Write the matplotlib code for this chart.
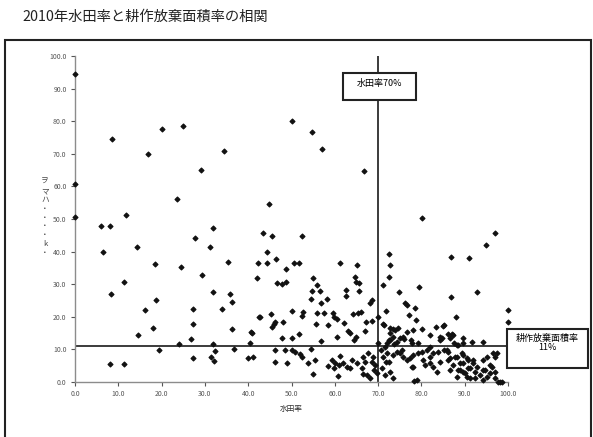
import matplotlib
matplotlib.use('Agg')
import matplotlib.pyplot as plt
import matplotlib.patches as patches

plt.rcParams['font.family'] = ['Noto Sans CJK JP', 'DejaVu Sans']

# 水田率 (x) と 耕作放棄面積率 (y)
paddy = [0.0, 0.0, 0.0, 8.5, 20.2, 25.0, 16.9, 34.4, 29.1, 50.0, 54.7, 57.1, 66.7, 23.6, 44.9,
         11.7, 5.9, 8.1, 31.9, 27.7, 31.2, 43.3, 45.4, 52.4, 6.5, 14.2, 44.3, 46.4, 18.5, 24.4,
         35.4, 42.3, 44.3, 48.7, 50.6, 51.8, 61.2, 29.3, 42.1, 55.0, 11.2, 8.2, 18.6, 16.2, 31.9,
         35.8, 36.2, 27.3, 33.9, 42.6, 27.3, 17.9, 14.5, 36.2, 40.6, 23.9, 26.9, 31.9, 40.4, 19.4,
         32.3, 36.7, 31.5, 32.1, 27.3, 40.0, 41.2, 8.1, 11.2, 80.1, 97.1, 95.0, 72.4, 86.8, 91.1,
         46.3, 48.9, 53.9, 55.4, 55.0, 58.4, 59.7, 60.0, 60.8,
         65.1, 72.7, 46.7, 47.8, 48.7, 55.8, 56.6, 54.7, 64.7, 65.0, 65.5, 65.5, 62.5, 62.6, 72.4,
         71.1, 79.4, 74.8, 92.9, 86.8, 54.4, 58.1, 56.7, 50.0, 52.7, 55.8, 57.6, 59.5, 59.8, 60.4,
         52.4, 45.3, 42.7, 48.1, 46.3, 46.0, 45.5, 55.6, 58.5, 62.1, 64.1, 65.3, 66.0, 67.2, 68.1,
         68.6, 63.1, 63.5, 67.0, 68.7, 51.7, 50.0, 47.8, 40.8, 56.7, 60.4, 64.4, 64.9, 70.0, 71.8,
         71.4, 72.7, 73.5, 74.5, 80.1, 76.2, 76.7, 78.5, 77.2, 78.8, 83.3, 84.9, 88.0, 86.2, 87.4,
         86.6, 89.7, 82.0, 84.3, 84.7, 100.0, 100.0, 77.5, 76.0, 74.3, 73.7, 72.7, 72.1, 71.6, 69.9,
         87.5, 88.2, 91.6, 94.3, 82.0,
         46.2, 48.5, 50.0, 50.8, 52.0, 52.4, 54.5, 59.3, 61.2, 61.0, 62.0, 62.7, 63.5, 63.9, 65.1,
         66.2, 66.6, 67.4, 68.1, 66.6, 67.0, 67.7, 68.9, 68.6, 69.3, 69.1, 69.7, 70.8, 71.6, 72.7,
         73.5, 70.6, 72.0, 73.4, 74.3, 75.5, 71.8, 75.8, 76.6, 78.1, 79.3, 77.8, 78.3, 80.3, 80.8,
         82.0, 81.2, 82.7, 83.9, 85.1, 86.2, 86.6, 88.2, 89.7, 90.8, 88.9, 87.4, 86.6, 88.5, 89.7,
         91.2, 92.8, 94.3, 93.5, 95.1, 95.8, 97.0, 95.8, 97.0, 97.4, 94.3, 92.0, 90.5, 92.4, 94.3,
         97.8, 98.5,
         71.2, 73.9, 72.7, 73.5, 72.4, 75.1, 75.8, 76.6, 78.1, 85.1, 87.0, 84.3, 77.8, 79.3, 88.5,
         89.7, 71.2, 72.4, 75.1, 77.4, 78.1, 78.9, 80.1, 82.0, 82.7, 83.5, 84.3, 85.9, 86.2, 87.8,
         88.2, 88.9, 89.3, 89.7, 90.1, 90.5, 90.8, 91.2, 92.0, 92.4, 94.7, 95.1, 96.2, 97.0, 96.6,
         98.2]
abandoned = [94.4, 60.7, 50.7, 74.4, 77.5, 78.5, 69.8, 70.9, 65.0, 80.2, 76.7, 71.6, 64.6, 56.0, 54.6,
             51.2, 47.7, 47.7, 47.1, 44.1, 41.5, 45.6, 44.9, 44.9, 39.9, 41.5, 39.9, 37.8, 36.1, 35.3,
             36.8, 36.4, 36.4, 34.6, 36.4, 36.4, 36.6, 32.8, 31.9, 32.0, 30.8, 27.1, 25.1, 22.1, 27.6,
             26.9, 24.4, 22.5, 22.5, 20.0, 17.8, 16.6, 14.4, 16.3, 15.2, 11.6, 13.2, 11.6, 12.1, 9.8,
             9.5, 10.1, 7.8, 6.5, 7.5, 7.5, 7.8, 5.6, 5.6, 50.2, 45.6, 41.9, 39.2, 38.4, 37.9,
             6.2, 5.7, 5.9, 6.7, 2.5, 5.0, 4.2, 5.7, 1.8,
             35.9, 35.9, 30.3, 30.1, 30.8, 29.8, 28.0, 28.0, 32.3, 30.8, 30.3, 27.8, 28.2, 26.4, 32.3,
             29.7, 29.2, 27.6, 27.6, 26.2, 25.5, 25.5, 24.3, 21.9, 21.4, 21.3, 21.1, 21.1, 20.0, 19.3,
             20.2, 20.8, 19.8, 18.5, 18.5, 17.7, 16.8, 17.7, 17.5, 18.0, 20.8, 21.1, 21.6, 18.5, 24.1,
             25.2, 15.6, 14.9, 15.7, 18.8, 14.6, 13.4, 13.4, 14.9, 12.6, 13.7, 12.9, 13.7, 20.0, 21.9,
             17.5, 16.7, 16.2, 16.5, 16.2, 24.1, 23.6, 22.6, 20.6, 19.0, 17.0, 17.2, 19.8, 14.7, 14.4,
             13.4, 13.4, 14.4, 12.9, 13.4, 22.1, 18.5, 12.9, 13.1, 12.4, 11.7, 12.9, 11.9, 10.8, 11.9,
             11.9, 11.3, 12.4, 12.4, 10.8,
             9.8, 9.8, 9.8, 9.3, 8.6, 7.8, 10.0, 6.7, 8.0, 5.2, 5.7, 4.7, 4.2, 6.7, 5.7,
             4.2, 2.5, 2.1, 1.1, 7.8, 6.2, 8.8, 7.8, 6.2, 5.2, 3.7, 2.7, 4.2, 2.1, 3.2,
             1.1, 9.8, 8.8, 8.3, 9.3, 9.8, 6.2, 7.8, 6.7, 8.3, 8.8, 4.5, 0.4, 6.7, 5.2,
             5.7, 9.8, 8.8, 9.3, 9.8, 9.3, 7.3, 7.8, 8.3, 6.7, 5.7, 5.2, 3.7, 3.7, 3.2,
             4.2, 4.7, 3.7, 2.1, 1.6, 2.7, 3.2, 5.2, 7.8, 8.8, 6.7, 5.7, 1.6, 1.1, 0.6,
             0.1, 0.0,
             17.8, 16.0, 14.9, 13.9, 12.9, 13.4, 13.9, 15.4, 16.0, 17.5, 14.7, 13.7, 12.1, 11.9, 11.3,
             11.9, 7.8, 6.2, 8.8, 7.3, 4.7, 0.6, 9.3, 7.8, 4.7, 3.2, 6.2, 9.8, 6.7, 7.8,
             1.6, 3.7, 8.8, 5.7, 2.7, 7.3, 4.2, 1.1, 6.7, 3.2, 3.7, 7.8, 4.7, 1.1, 8.8,
             0.1]

ticks = [0, 10, 20, 30, 40, 50, 60, 70, 80, 90, 100]
tick_labels = ['%.1f' % t for t in ticks]
paddy_line = 70
abandon_line = 11

fig = plt.figure(figsize=(5.93, 4.37), dpi=100)
ax = fig.add_axes([0.1265, 0.1259, 0.7302, 0.746])

ax.scatter(paddy, abandoned, marker='D', s=6, color='#111111', linewidths=0.9,
           edgecolors='#111111', clip_on=False, zorder=3)
ax.axvline(paddy_line, color='#1a1a1a', lw=1.2, zorder=2)
ax.axhline(abandon_line, color='#1a1a1a', lw=1.2, zorder=2)

ax.set_xlim(0, 100)
ax.set_ylim(0, 100)
ax.set_xticks(ticks)
ax.set_xticklabels(tick_labels)
ax.set_yticks(ticks)
ax.set_yticklabels(tick_labels)
ax.tick_params(labelsize=5, colors='#555555', length=3, width=0.8, pad=3)
for s in ['top', 'right']:
    ax.spines[s].set_visible(False)
for s in ['left', 'bottom']:
    ax.spines[s].set_color('#8c8c8c')
    ax.spines[s].set_linewidth(1.0)
ax.set_xlabel('水田率', fontsize=5.5, color='#333333', labelpad=5)

# garbled vertical y label as in the original
fig.text(0.076, 1 - 178 / 437, 'ヲ\nマ\nハ\n・\n・\n・\n・\nk\n・', fontsize=5.5,
         color='#444444', ha='center', va='top', linespacing=1.15)

fig.text(0.037, 0.961, '2010年水田率と耕作放棄面積率の相関', fontsize=10.3,
         ha='left', va='center', color='#222222')

# outer frame
fig.patches.append(patches.Rectangle((0.0084, -0.05), 0.988, 0.9585, transform=fig.transFigure,
                                     fill=False, edgecolor='#222222', lw=1.5, zorder=0))

# label boxes
fig.patches.append(patches.Rectangle((0.578, 0.771), 0.123, 0.0618, transform=fig.transFigure,
                                     facecolor='white', edgecolor='#222222', lw=1.5, zorder=5))
fig.text(0.640, 0.808, '水田率70%', fontsize=6.5, ha='center', va='center', zorder=6)

fig.patches.append(patches.Rectangle((0.855, 0.158), 0.1366, 0.0892, transform=fig.transFigure,
                                     facecolor='white', edgecolor='#222222', lw=1.5, zorder=5))
fig.text(0.923, 0.215, '耕作放棄面積率\n11%', fontsize=6.5, ha='center', va='center',
         linespacing=1.0, zorder=6)

fig.savefig('out.png', dpi=100)
